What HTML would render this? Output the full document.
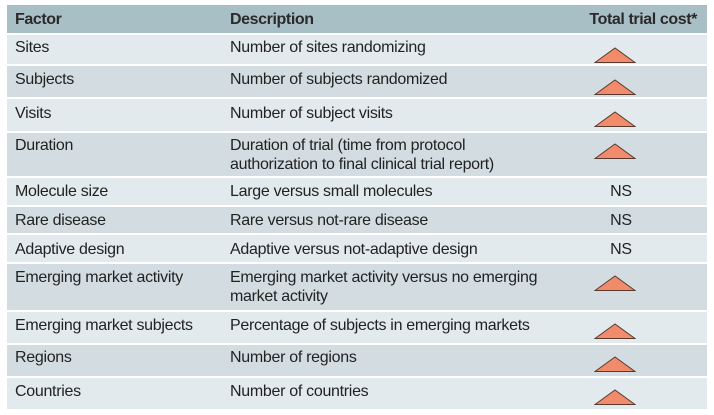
<!DOCTYPE html>
<html><head><style>
body{margin:0;width:714px;height:415px;background:#fff;position:relative;overflow:hidden;font-family:"Liberation Sans",sans-serif;font-size:16px;color:#222}
.r{position:absolute;left:7px;width:700px}
.t{position:absolute;line-height:19px;letter-spacing:-0.3px}
.a{left:8px}.b{left:223px}
.h{font-weight:bold;color:#2a2a2a;letter-spacing:-0.4px}
.tri{position:absolute;left:587px;width:42px;height:16px}
.ns{position:absolute;left:599px;width:30px;text-align:center}
</style></head><body>
<div class="r" style="top:5px;height:28px;background:#a9bfc6">
<div class="t a h" style="top:5px">Factor</div><div class="t b h" style="top:5px">Description</div><div class="t h" style="top:5px;right:10px">Total trial cost*</div></div>
<div class="r" style="top:35px;height:29px;background:#e2eaed"><div class="t a" style="top:3px">Sites</div><div class="t b" style="top:3px">Number of sites randomizing</div><svg class="tri" style="top:12px" viewBox="0 0 42 16"><polygon points="1,15.5 21,1 41,15.5" fill="#f08c6c" stroke="#5a3a2e" stroke-width="1"/></svg></div>
<div class="r" style="top:66px;height:31px;background:#d3dde1"><div class="t a" style="top:4px">Subjects</div><div class="t b" style="top:4px">Number of subjects randomized</div><svg class="tri" style="top:13px" viewBox="0 0 42 16"><polygon points="1,15.5 21,1 41,15.5" fill="#f08c6c" stroke="#5a3a2e" stroke-width="1"/></svg></div>
<div class="r" style="top:99px;height:32px;background:#e2eaed"><div class="t a" style="top:5px">Visits</div><div class="t b" style="top:5px">Number of subject visits</div><svg class="tri" style="top:12px" viewBox="0 0 42 16"><polygon points="1,15.5 21,1 41,15.5" fill="#f08c6c" stroke="#5a3a2e" stroke-width="1"/></svg></div>
<div class="r" style="top:133px;height:43px;background:#d3dde1"><div class="t a" style="top:3px">Duration</div><div class="t b" style="top:3px">Duration of trial (time from protocol<br>authorization to final clinical trial report)</div><svg class="tri" style="top:10px" viewBox="0 0 42 16"><polygon points="1,15.5 21,1 41,15.5" fill="#f08c6c" stroke="#5a3a2e" stroke-width="1"/></svg></div>
<div class="r" style="top:178px;height:27px;background:#e2eaed"><div class="t a" style="top:4px">Molecule size</div><div class="t b" style="top:4px">Large versus small molecules</div><div class="t ns" style="top:4px">NS</div></div>
<div class="r" style="top:207px;height:26px;background:#d3dde1"><div class="t a" style="top:4px">Rare disease</div><div class="t b" style="top:4px">Rare versus not-rare disease</div><div class="t ns" style="top:4px">NS</div></div>
<div class="r" style="top:235px;height:27px;background:#e2eaed"><div class="t a" style="top:5px">Adaptive design</div><div class="t b" style="top:5px">Adaptive versus not-adaptive design</div><div class="t ns" style="top:5px">NS</div></div>
<div class="r" style="top:264px;height:46px;background:#d3dde1"><div class="t a" style="top:4px">Emerging market activity</div><div class="t b" style="top:4px">Emerging market activity versus no emerging<br>market activity</div><svg class="tri" style="top:11px" viewBox="0 0 42 16"><polygon points="1,15.5 21,1 41,15.5" fill="#f08c6c" stroke="#5a3a2e" stroke-width="1"/></svg></div>
<div class="r" style="top:312px;height:31px;background:#e2eaed"><div class="t a" style="top:4px">Emerging market subjects</div><div class="t b" style="top:4px">Percentage of subjects in emerging markets</div><svg class="tri" style="top:11px" viewBox="0 0 42 16"><polygon points="1,15.5 21,1 41,15.5" fill="#f08c6c" stroke="#5a3a2e" stroke-width="1"/></svg></div>
<div class="r" style="top:345px;height:31px;background:#d3dde1"><div class="t a" style="top:3px">Regions</div><div class="t b" style="top:3px">Number of regions</div><svg class="tri" style="top:11px" viewBox="0 0 42 16"><polygon points="1,15.5 21,1 41,15.5" fill="#f08c6c" stroke="#5a3a2e" stroke-width="1"/></svg></div>
<div class="r" style="top:378px;height:31px;background:#e2eaed"><div class="t a" style="top:4px">Countries</div><div class="t b" style="top:4px">Number of countries</div><svg class="tri" style="top:11px" viewBox="0 0 42 16"><polygon points="1,15.5 21,1 41,15.5" fill="#f08c6c" stroke="#5a3a2e" stroke-width="1"/></svg></div>
</body></html>
